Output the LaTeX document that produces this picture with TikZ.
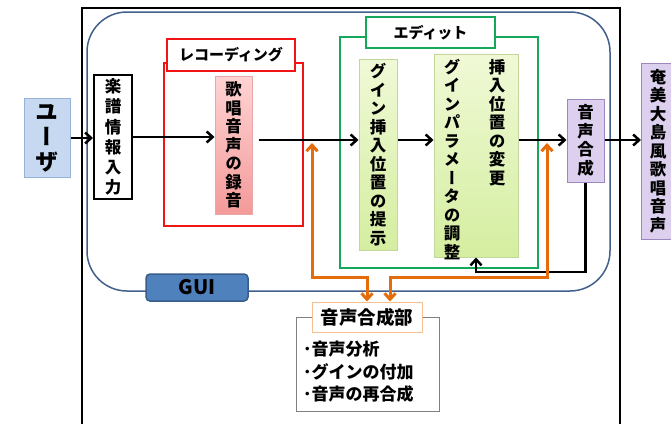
\documentclass[tikz,border=0pt]{standalone}
\usepackage{fontspec}
\setmainfont{Noto Sans CJK JP}
\newfontfamily\vjp{Noto Sans CJK JP}[RawFeature=+vert]
\usetikzlibrary{arrows.meta}
\usetikzlibrary{positioning}

\definecolor{userblue}{HTML}{C6D9F1}
\definecolor{userline}{HTML}{95B3D7}
\definecolor{guiline}{HTML}{41608C}
\definecolor{guifill}{HTML}{4F81BD}
\definecolor{guidraw}{HTML}{385D8A}
\definecolor{recred}{HTML}{F01414}
\definecolor{pinktop}{HTML}{FFD3D3}
\definecolor{pinkbot}{HTML}{F49A9A}
\definecolor{pinkline}{HTML}{E8A8A8}
\definecolor{editgreen}{HTML}{16A85A}
\definecolor{limetop}{HTML}{F0F9D6}
\definecolor{limebot}{HTML}{D4EEA0}
\definecolor{limeline}{HTML}{C3D69B}
\definecolor{lilac}{HTML}{DCD0EE}
\definecolor{lilacline}{HTML}{9C88BF}
\definecolor{orng}{HTML}{E46C0A}
\definecolor{unitline}{HTML}{F6C08E}

\begin{document}
\begin{tikzpicture}[x=1pt,y=-1pt,>={Straight Barb[length=6pt,width=11pt]},
  every node/.style={inner sep=0pt,font=\bfseries},
  vtext/.style={align=center,font=\vjp\bfseries\fontsize{16.5}{18.5}\selectfont},
  vbox/.style={vtext,draw,line width=1pt},
  limebox/.style={vbox,draw=limeline,top color=limetop,bottom color=limebot},
  lilacbox/.style={vbox,draw=lilacline,fill=lilac},
  framelabel/.style={draw,fill=white,line width=1.5pt,font=\bfseries\fontsize{15}{17}\selectfont},
  arr/.style={->,line width=2.5pt},
  orarr/.style={<->,orng,line width=3pt}]
  \useasboundingbox (0,0) rectangle (671,423);
  \clip (0,0) rectangle (671,423);

  % frames
  \draw[line width=2pt] (82,8) rectangle (620,440);
  \node[draw=guiline,line width=1.5pt,rounded corners=40pt,minimum width=523pt,minimum height=279pt] (guiframe) at (348.5,151.5) {};
  \node[draw=recred,line width=2pt,minimum width=139pt,minimum height=163pt] (recframe) at (233.5,144.5) {};
  \node[draw=editgreen,line width=2pt,minimum width=198pt,minimum height=231pt] (editframe) at (439,152.5) {};
  \node[framelabel,draw=recred,minimum width=128pt,minimum height=32pt] (reclabel) at (231,55) {レコーディング};
  \node[framelabel,draw=editgreen,minimum width=129pt,minimum height=31pt] (editlabel) at (430.5,32.5) {エディット};
  \node[draw=guidraw,fill=guifill,line width=1.5pt,rounded corners=4pt,minimum width=102pt,minimum height=27pt,
        font=\bfseries\fontsize{20}{22}\selectfont] (guilabel) at (197,287.5) {GUI};

  % boxes
  \node[vbox,draw=userline,fill=userblue,minimum width=46pt,minimum height=79pt,
        font=\vjp\bfseries\fontsize{23}{25}\selectfont] (user) at (47,138) {ユ\\ー\\ザ};
  \node[vbox,line width=2pt,fill=white,minimum width=38pt,minimum height=124pt,
        font=\vjp\bfseries\fontsize{16.5}{20.2}\selectfont] (score) at (113,137) {楽\\譜\\情\\報\\入\\力};
  \node[vbox,draw=pinkline,top color=pinktop,bottom color=pinkbot,minimum width=37pt,minimum height=138pt] (sing) at (233.5,145) {歌\\唱\\音\\声\\の\\録\\音};
  \node[limebox,minimum width=38pt,minimum height=191pt] (present) at (378,154.5) {グ\\イ\\ン\\挿\\入\\位\\置\\の\\提\\示};
  \node[limebox,minimum width=84pt,minimum height=203pt] (adjust) at (476,155.5) {};
  \node[vtext,anchor=north] (adjtxt) at (452,59) {グ\\イ\\ン\\パ\\ラ\\メ\\ー\\タ\\の\\調\\整};
  \node[vtext,anchor=north] (movtxt) at (497,59) {挿\\入\\位\\置\\の\\変\\更};
  \node[lilacbox,minimum width=37pt,minimum height=83pt] (synth) at (585.5,140.5) {音\\声\\合\\成};
  \node[lilacbox,minimum width=33pt,minimum height=176pt] (out) at (658,151) {奄\\美\\大\\島\\風\\歌\\唱\\音\\声};

  % synthesis unit
  \node[draw=gray,line width=1pt,fill=white,minimum width=143pt,minimum height=94pt] (unitbox) at (367.5,364) {};
  \node[draw=unitline,line width=1pt,fill=white,minimum width=110pt,minimum height=30pt,
        font=\bfseries\fontsize{18.5}{20}\selectfont] (unitlab) at (367,317) {音声合成部};
  \node[anchor=west,align=left,font=\bfseries\fontsize{17}{22.5}\selectfont] (unittxt) at (303,372)
       {･音声分析\\･グインの付加\\･音声の再合成};

  % connectors
  \coordinate (main) at (0,140);
  \coordinate (fb) at (0,272);
  \coordinate (ob) at (0,277);
  \coordinate (o1) at (312,143);
  \coordinate (o2) at (547,143);
  \draw[arr] (user) -- (user -| score.west);
  \draw[arr] (score) -- (score -| sing.west);
  \draw[arr,shorten <=6pt] (sing.east |- main) -- (present.west |- main);
  \draw[arr] (present.east |- main) -- (adjust.west |- main);
  \draw[arr] (adjust.east |- main) -- (synth.west |- main);
  \draw[arr] (synth.east |- main) -- (out.west |- main);
  \draw[arr] (synth.south) -- (synth.south |- fb) -| (adjust.south);
  \draw[orarr] (o1) -- (o1 |- ob) -| (unitlab.north);
  \draw[orarr] (o2) -- (o2 |- ob) -| ([xshift=23pt]unitlab.north);
\end{tikzpicture}
\end{document}
